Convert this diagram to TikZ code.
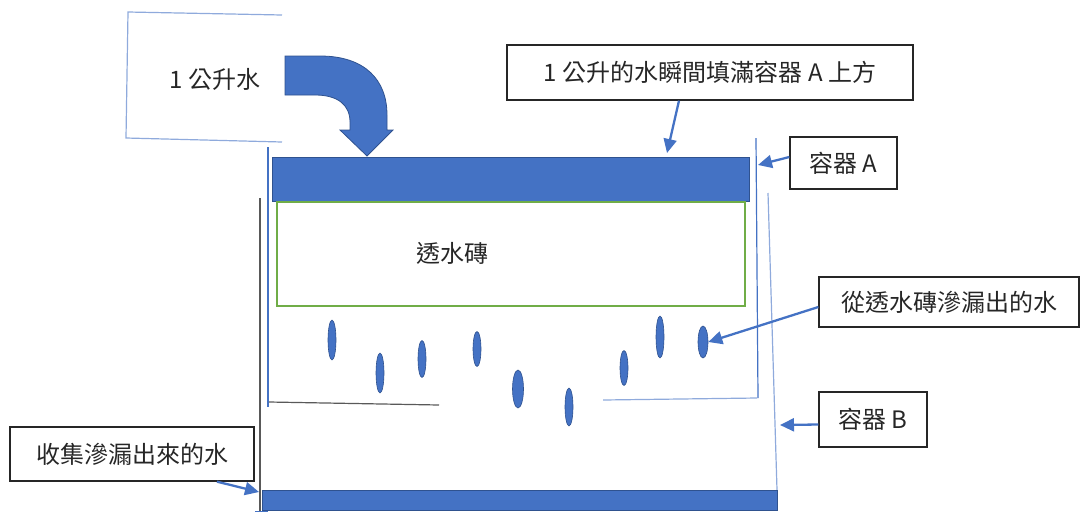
\documentclass[tikz,border=0pt]{standalone}
\usepackage{fontspec}
\setmainfont{Noto Sans CJK TC}
\usetikzlibrary{arrows.meta,shapes.geometric}
\definecolor{wblue}{HTML}{4472C4}
\definecolor{wdark}{HTML}{2F528F}
\definecolor{wlight}{HTML}{8FAADC}
\definecolor{wgreen}{HTML}{70AD47}
\definecolor{txt}{HTML}{262626}
\tikzset{
  lbl/.style={draw=black!85, line width=1.3pt, inner sep=0pt, text=txt,
    font=\fontsize{24}{28}\selectfont},
  callout/.style={draw=wblue, line width=2.3pt, -{Triangle[length=14pt,width=13pt]}},
  wall/.style={draw=wblue, line width=1.2pt},
  lightwall/.style={draw=wlight, line width=1.2pt},
  darkwall/.style={draw=black!65, line width=1.4pt},
  slab/.style={fill=wblue, draw=wdark, line width=0.8pt},
  drop/.style={fill=wblue, draw=wdark, line width=0.6pt},
}
\begin{document}
\begin{tikzpicture}[x=1pt,y=-1pt]
\useasboundingbox (0,0) rectangle (1084,515);
% 1 liter water box (open on right)
\draw[lightwall] (282,15) -- (128,12) -- (126,138) -- (282,142);
\node[text=txt, font=\fontsize{24}{28}\selectfont] (liter) at (215,79) {1 公升水};
% bent arrow
\path[fill=wblue, draw=wdark, line width=0.8pt] (285,56) -- (320,56)
  .. controls (365,56) and (387,80) .. (387,115) -- (387,130) -- (393,130)
  -- (367,156) -- (340,130) -- (350,130) -- (350,122)
  .. controls (350,105) and (338,95) .. (315,95) -- (285,95) -- cycle;
% container B
\draw[darkwall] (260,198) -- (260,512);
\draw[lightwall] (768,193) -- (777,490);
\draw[slab] (262,490) rectangle (777,510);
\draw[wblue, line width=1pt] (255,511) -- (268,511);
% container A
\draw[wall] (268,147) -- (268,407);
\draw[wall] (756,138) -- (758,398);
\draw[darkwall, line width=1.2pt] (269,402) -- (439,405);
\draw[lightwall] (603,400) -- (757,398);
\node[slab, minimum width=477pt, minimum height=44pt, inner sep=0pt] (lid) at (510.5,179.5) {};
\node[draw=wgreen, line width=1.2pt, minimum width=468pt, minimum height=104pt, inner sep=0pt] (brick) at (511,254) {};
\node[text=txt, font=\fontsize{24}{28}\selectfont] (brickText) at (452,253) {透水磚};
% drops
\node[drop, ellipse, minimum width=8pt, minimum height=40pt, inner sep=0pt] (d1) at (332,340) {};
\node[drop, ellipse, minimum width=8pt, minimum height=40pt, inner sep=0pt] (d2) at (380,373) {};
\node[drop, ellipse, minimum width=8pt, minimum height=37pt, inner sep=0pt] (d3) at (422,359) {};
\node[drop, ellipse, minimum width=8pt, minimum height=35pt, inner sep=0pt] (d4) at (477,349) {};
\node[drop, ellipse, minimum width=11pt, minimum height=38pt, inner sep=0pt] (d5) at (518,389) {};
\node[drop, ellipse, minimum width=8pt, minimum height=38pt, inner sep=0pt] (d6) at (569,407) {};
\node[drop, ellipse, minimum width=8pt, minimum height=35pt, inner sep=0pt] (d7) at (624,368) {};
\node[drop, ellipse, minimum width=8pt, minimum height=42pt, inner sep=0pt] (d8) at (660,337) {};
\node[drop, ellipse, minimum width=10pt, minimum height=32pt, inner sep=0pt] (d9) at (703,342) {};
% labels
\node[lbl, minimum width=406pt, minimum height=55pt] (lblTop) at (710,72.5) {1 公升的水瞬間填滿容器 A 上方};
\node[lbl, minimum width=107pt, minimum height=52pt] (lblA) at (843.5,163) {容器 A};
\node[lbl, minimum width=260pt, minimum height=50pt] (lblSeep) at (949,302) {從透水磚滲漏出的水};
\node[lbl, minimum width=108pt, minimum height=55pt] (lblB) at (873,419.5) {容器 B};
\node[lbl, minimum width=244pt, minimum height=54pt] (lblCollect) at (132,454) {收集滲漏出來的水};
% callout arrows
\coordinate (tTop) at (667,153);
\coordinate (tA) at (758,165);
\coordinate (tB) at (780,425);
\coordinate (tC) at (259,492);
\draw[callout] ([xshift=-31pt]lblTop.south) -- (tTop);
\draw[callout] ([yshift=6pt]lblA.west) -- (tA);
\draw[callout] ([yshift=-5pt]lblSeep.west) -- (d9.east);
\draw[callout] ([yshift=-5pt]lblB.west) -- (tB);
\draw[callout] ([xshift=85pt]lblCollect.south) -- (tC);
\end{tikzpicture}
\end{document}
